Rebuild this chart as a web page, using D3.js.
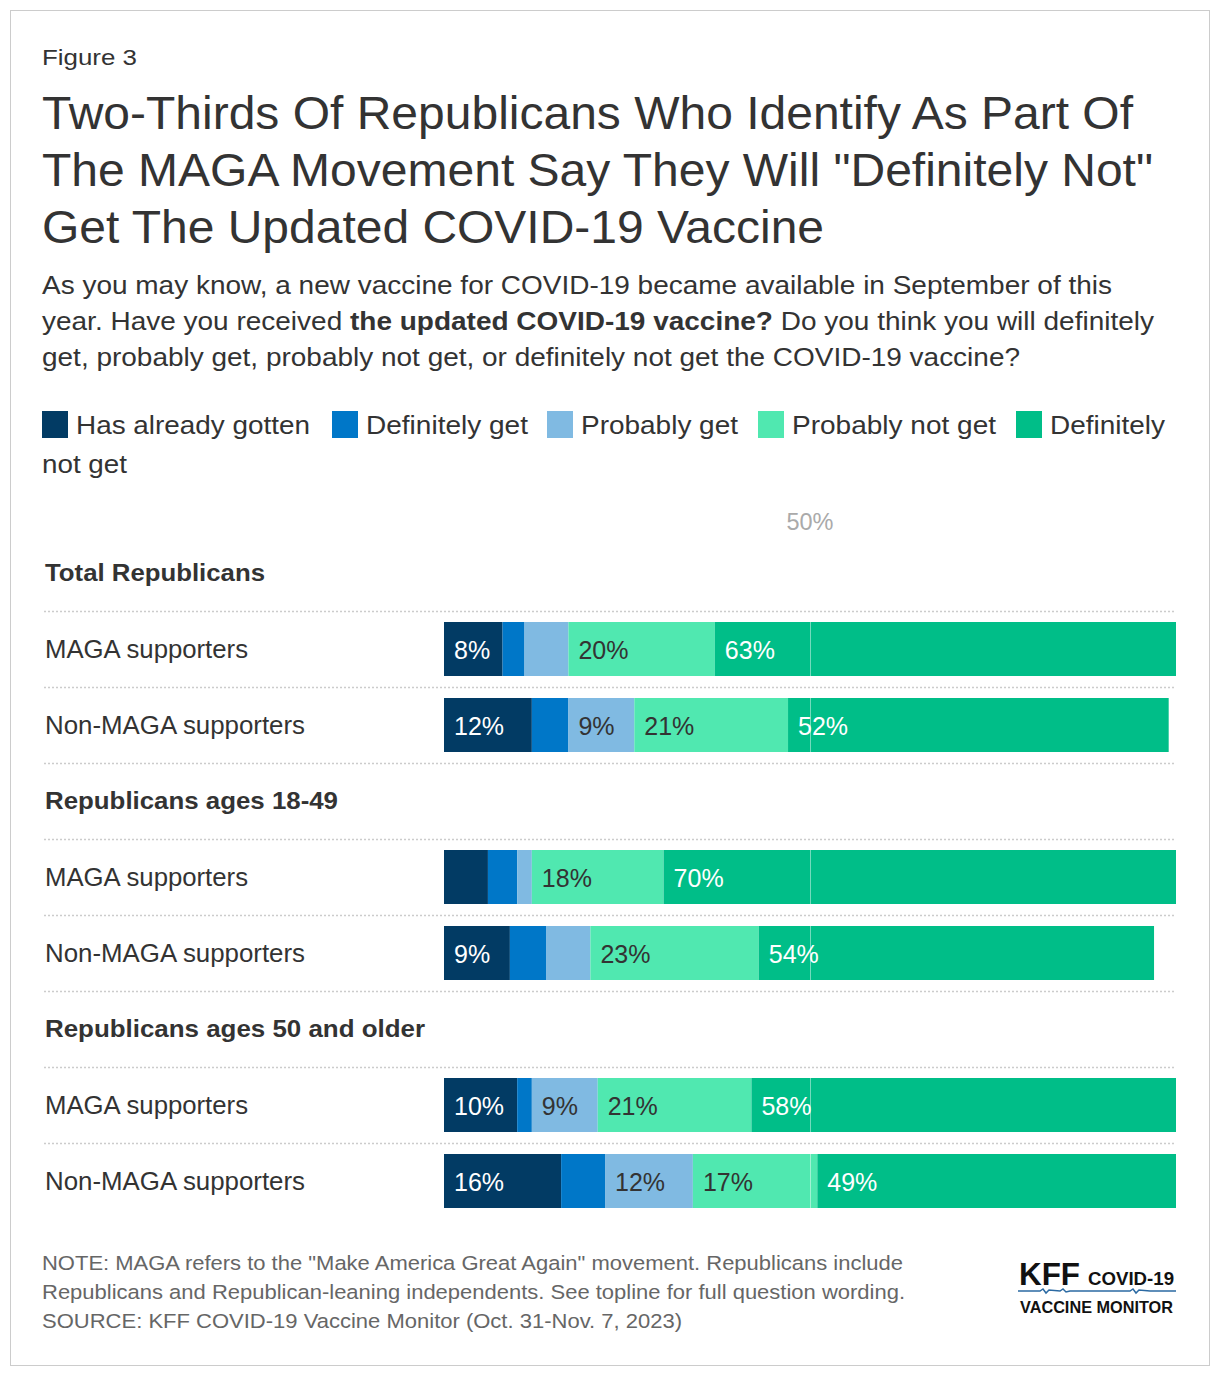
<!DOCTYPE html>
<html><head><meta charset="utf-8">
<script src="https://cdn.jsdelivr.net/npm/d3@7"></script>
<style>
body{margin:0;background:#fff;font-family:"Liberation Sans",Arial,sans-serif;}
</style></head>
<body>
<svg id="chart" width="1220" height="1378"></svg>
<script>
const seriesNames = ["Has already gotten","Definitely get","Probably get","Probably not get","Definitely not get"];
const seriesColors = ["#023b64","#0077c8","#80bae2","#50e8b0","#00be88"];
const labelColors = ["#fff","#fff","#333","#333","#fff"];
const groups = ["Total Republicans","Republicans ages 18-49","Republicans ages 50 and older"];
const rowLabels = ["MAGA supporters","Non-MAGA supporters"];
const hasAlready   = [8, 12, 6, 9, 10, 16];
const definitelyGet = [3, 5, 4, 5, 2, 6];
const probablyGet  = [6, 9, 2, 6, 9, 12];
const probablyNot  = [20, 21, 18, 23, 21, 17];
const definitelyNot = [63, 52, 70, 54, 58, 49];
const tickValues = [50];

const svg = d3.select("#chart");
svg.append("rect").attr("x",10.5).attr("y",10.5).attr("width",1199).attr("height",1355)
  .attr("fill","#fff").attr("stroke","#ccc").attr("stroke-width",1);

const txt = (x,y,s,size,opts={}) => {
  const t = svg.append("text").attr("x",x).attr("y",y)
  .attr("font-size",size).attr("fill",opts.fill||"#333").attr("font-weight",opts.weight||"normal")
  .attr("text-anchor",opts.anchor||"start").text(s);
  if(opts.len) t.attr("textLength",opts.len).attr("lengthAdjust","spacingAndGlyphs");
  return t;
};

txt(42,65,"Figure 3",22,{len:95});
const titleLines = ["Two-Thirds Of Republicans Who Identify As Part Of",
 "The MAGA Movement Say They Will \"Definitely Not\"",
 "Get The Updated COVID-19 Vaccine"];
const titleLens = [1091,1111,782];
titleLines.forEach((l,i)=>txt(42,129+i*57,l,46,{len:titleLens[i]}));

txt(42,294,"As you may know, a new vaccine for COVID-19 became available in September of this",26.5,{len:1070});
const s2 = svg.append("text").attr("x",42).attr("y",330).attr("font-size",26.5).attr("fill","#333")
  .attr("textLength",1112).attr("lengthAdjust","spacingAndGlyphs");
s2.append("tspan").text("year. Have you received ");
s2.append("tspan").attr("font-weight","bold").text("the updated COVID-19 vaccine?");
s2.append("tspan").text(" Do you think you will definitely");
txt(42,366,"get, probably get, probably not get, or definitely not get the COVID-19 vaccine?",26.5,{len:978});

// legend
const legX = [42,332,547,758,1016];
const legLens = [234,162,157,204];
seriesNames.forEach((n,i)=>{
  svg.append("rect").attr("x",legX[i]).attr("y",411).attr("width",26).attr("height",27).attr("fill",seriesColors[i]);
  if(i<4) txt(legX[i]+34,434,n,26.5,{len:legLens[i]});
});
txt(legX[4]+34,434,"Definitely",26.5,{len:115});
txt(42,473,"not get",26.5,{len:85});

// chart
const x = d3.scaleLinear().domain([0,100]).range([444,1176]);
const data = hasAlready.map((d,i)=>[hasAlready[i],definitelyGet[i],probablyGet[i],probablyNot[i],definitelyNot[i]]);
const groupTop = [548,776,1004];
const groupLens = [220,293,380];
const rowLens = [203,260];
const rowY = [];
groups.forEach((g,gi)=>{
  const gy = groupTop[gi];
  txt(45,gy+33,g,24.5,{weight:"bold",len:groupLens[gi]});
  [0,1].forEach(r=>rowY.push(gy+74+r*76));
});
const dotYs = [611,687,763,839,915,991,1067,1143];
dotYs.forEach(y=>svg.append("line").attr("x1",44).attr("x2",1176).attr("y1",y+0.5).attr("y2",y+0.5)
  .attr("stroke","#ccc").attr("stroke-width",1.5).attr("stroke-dasharray","2,2"));

data.forEach((vals,ri)=>{
  const y = rowY[ri];
  txt(45,y+36,rowLabels[ri%2],25,{len:rowLens[ri%2]});
  let acc = 0;
  vals.forEach((v,si)=>{
    svg.append("rect").attr("x",x(acc)).attr("y",y).attr("width",x(acc+v)-x(acc)).attr("height",54)
      .attr("fill",seriesColors[si]);
    acc += v;
  });
  acc = 0;
  vals.forEach((v,si)=>{
    if(v>=8) txt(x(acc)+10,y+37,v+"%",25,{fill:labelColors[si]});
    acc += v;
  });
});
tickValues.forEach(t=>{
  txt(x(t),530,t+"%",23.5,{fill:"#aaa",anchor:"middle"});
  svg.append("line").attr("x1",x(t)+0.5).attr("x2",x(t)+0.5).attr("y1",548).attr("y2",1210)
    .attr("stroke","#fff").attr("stroke-opacity",0.45).attr("stroke-width",1);
});

// notes
const notes = ["NOTE: MAGA refers to the \"Make America Great Again\" movement. Republicans include",
 "Republicans and Republican-leaning independents. See topline for full question wording.",
 "SOURCE: KFF COVID-19 Vaccine Monitor (Oct. 31-Nov. 7, 2023)"];
const noteLens = [861,863,640];
notes.forEach((l,i)=>txt(42,1270+i*29,l,20.5,{fill:"#666",len:noteLens[i]}));

// logo
txt(1019,1285,"KFF",31,{fill:"#111",weight:"bold",len:61});
txt(1088,1285,"COVID-19",18.5,{fill:"#111",weight:"bold",len:86});
const wave = d3.line()([[1018,1291],[1040,1291],[1043,1289],[1046,1293],[1049,1290],[1060,1291],[1063,1289],[1066,1292],[1070,1291],[1130,1291],[1133,1289],[1136,1293],[1139,1290],[1150,1291],[1176,1291]]);
svg.append("path").attr("d",wave).attr("fill","none").attr("stroke","#2b6aa3").attr("stroke-width",1.5);
txt(1020,1313,"VACCINE MONITOR",16.5,{fill:"#111",weight:"bold",len:153});
</script>
</body></html>
